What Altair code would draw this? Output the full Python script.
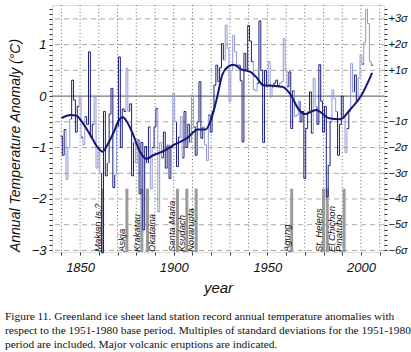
import altair as alt
import pandas as pd
import numpy as np

# ---------------- data ----------------
years = list(range(1840, 2007))
anomaly = [
    -0.78, -1.15, -0.65, -1.62, -1.00, -0.45, 0.31, -0.08, -0.70, -0.20,
    0.00, -0.80, -0.95, -0.40, -0.55, 0.86, -0.80, -0.55, -0.02, -1.40,
    -1.00, -1.50, -3.05, -0.30, -1.55, -1.30, -0.35, 0.15, -1.78, -1.53,
    -0.60, 0.76, -1.00, -0.25, -0.30, 0.54, -0.30, -0.15, -1.55, -0.90,
    -1.30, -0.85, -1.90, -0.90, -2.60, -0.98, -1.30, -0.60, -1.80, -1.00,
    -0.60, -0.24, -2.25, -0.90, -1.20, -0.70, -1.40, -0.95, -1.60, -1.00,
    0.05, -0.50, -1.37, -0.80, -0.40, -1.20, -0.30, -1.00, -0.55, -0.90,
    0.02, -0.60, -1.15, -0.50, 0.28, -0.82, -0.60, -0.95, -1.25, -0.37,
    -0.70, -0.30, 0.21, 0.60, 0.28, 0.55, 1.02, 0.70, 1.38, 0.93,
    -0.10, 0.50, 1.18, 0.86, 0.60, 0.60, 0.30, -0.89, 0.83, 0.50,
    1.37, 1.07, 0.67, 0.12, 0.10, 0.25, 1.46, 0.50, -0.90, 0.50,
    0.18, 0.67, -0.02, 0.18, 0.25, 0.31, 0.20, 0.25, 0.28, 1.12,
    0.50, 0.18, 0.47, -0.63, 0.10, -0.40, -0.37, -0.10, -0.50, -0.30,
    -1.60, -0.63, -0.30, 0.08, -0.72, 0.34, -0.20, -0.55, 0.61, -0.10,
    -0.70, -0.20, -1.96, -1.35, -0.50, 0.12, -0.05, -0.30, -1.15, -0.55,
    0.00, -0.40, -1.10, -0.63, -0.30, 0.63, 0.08, 0.41, -0.10, 0.35,
    0.80, 0.62, 1.05, 1.69, 1.41, 0.67, 0.60,
]
source = list(
    "AAABBBAAAA"
    "BABAAAAABB"
    "ABAAABAAAB"
    "BAAAABBAAB"
    "BAAAAABABA"
    "AABBAAABAA"
    "BBAABAAAAB"
    "BAAAAABBBA"
    "AAAAAAABBB"
    "BBBBAAAAAA"
    "AAABBAAAAA"
    "ABBAAAABBB"
    "BAAAABBBAA"
    "AABAABBAAA"
    "AAAAABBBAA"
    "AABABBBABB"
    "BABBBBA"
)

curve_years = [1840, 1845, 1848, 1851, 1856, 1859, 1862, 1865, 1868, 1871, 1873,
               1875, 1878, 1882, 1885.5, 1889, 1894, 1900, 1907, 1913, 1917,
               1920, 1923, 1926, 1929, 1932, 1936, 1941, 1944, 1948, 1953,
               1958, 1962, 1967, 1970, 1976, 1983, 1989, 1994, 2000, 2006]
curve_values = [-0.43, -0.37, -0.38, -0.50, -0.79, -0.98, -1.08, -0.92, -0.70, -0.45, -0.41,
                -0.50, -0.72, -1.08, -1.22, -1.15, -1.08, -0.95, -0.82, -0.65, -0.65,
                -0.45, -0.05, 0.42, 0.57, 0.61, 0.52, 0.47, 0.37, 0.21, 0.20,
                0.18, 0.05, -0.27, -0.35, -0.27, -0.43, -0.45, -0.27, 0.00, 0.45]

volcano_names = ["Makian Is.?", "Askja", "Krakatau", "Okataina", "Santa Maria",
                 "Ksudach", "Novarupta", "Agung", "St. Helens", "El Chichon", "Pinatubo"]
volcano_years = [1862, 1875, 1883, 1886, 1902, 1907, 1912, 1963, 1980, 1982, 1991]
volcano_top = -1.8

decades = list(range(1840, 2011, 10))
sigma_levels = [1.5, 1.0, 0.5, -0.5, -1.0, -1.5, -2.0, -2.5, -3.0]
zero_level = [0.0]

X_DOMAIN = [1835, 2012.3]
Y_DOMAIN = [-3.03, 1.77]
NAVY = "#1b1f7c"
LIGHT = "#9397d4"
LABEL_FONT = "Liberation Sans"

# ---------------- frames ----------------
n = len(years)
arr = np.array(anomaly)
steps = pd.DataFrame({
    "x0": [y - 0.5 for y in years],
    "x1": [y + 0.5 for y in years],
    "v": anomaly,
    "src": source,
})
curve_at = np.interp(years, curve_years, curve_values)
dev = np.abs(arr - curve_at)
vert_rows = []
for i in range(1, n):
    owner = i if dev[i] >= dev[i - 1] else i - 1
    vert_rows.append({"x0": years[i] - 0.5, "v0": anomaly[i - 1], "v1": anomaly[i],
                      "src": source[owner]})
verts = pd.DataFrame(vert_rows)

curve_df = pd.DataFrame({"x0": curve_years, "v": curve_values})
volc = pd.DataFrame({"name": volcano_names, "x0": volcano_years,
                     "top": [volcano_top] * len(volcano_years),
                     "base": [Y_DOMAIN[0]] * len(volcano_years)})

xs = alt.Scale(domain=X_DOMAIN, nice=False, zero=False)
ys = alt.Scale(domain=Y_DOMAIN, nice=False, zero=False)
color_scale = alt.Scale(domain=["A", "B"], range=[NAVY, LIGHT])

left_ticks = [round(-3.0 + 0.1 * i, 1) for i in range(48)]
right_ticks = left_ticks

x_axis = alt.Axis(
    values=decades, title="year", grid=False, domain=False,
    tickSize=3, tickColor="#333", labelPadding=6,
    labelExpr="datum.value % 50 == 0 ? '' + datum.value : ''",
    labelFont=LABEL_FONT, labelFontStyle="italic", labelFontSize=13, labelColor="#111",
    titleFont=LABEL_FONT, titleFontStyle="italic", titleFontSize=15,
    titleFontWeight="normal", titleColor="#111", titlePadding=6,
)


def X(field):
    return alt.X(field, type="quantitative", scale=xs, axis=x_axis)


# grid: decades (dotted)
grid_x = alt.Chart(pd.DataFrame({"x0": decades})).mark_rule(
    color="#444444", strokeDash=[1, 2.5], strokeWidth=0.8
).encode(x=X("x0"))

# grid: sigma levels (dashed) -> carries right axis
grid_y = alt.Chart(pd.DataFrame({"v": sigma_levels})).mark_rule(
    color="#a8a8a8", strokeDash=[5, 4], strokeWidth=1
).encode(
    y=alt.Y("v:Q", scale=ys, axis=alt.Axis(
        orient="right", values=right_ticks, title=None, grid=False, domain=False,
        tickSize=3, tickColor="#333", labelPadding=1,
        labelExpr="abs(datum.value*2 - round(datum.value*2)) < 0.01 && round(datum.value*2) != 0 ? (datum.value > 0 ? '+' : '\u2212') + abs(round(datum.value*2)) + '\u03c3' : ''",
        labelFont=LABEL_FONT, labelFontStyle="italic", labelFontSize=11, labelColor="#111",
    ))
)

zero_rule = alt.Chart(pd.DataFrame({"v": zero_level})).mark_rule(
    color="#777777", strokeWidth=1.2
).encode(y=alt.Y("v:Q", scale=ys, axis=None))

volc_bars = alt.Chart(volc).mark_rule(color="#9b9b9b", strokeWidth=3).encode(
    x=X("x0"),
    y=alt.Y("base:Q", scale=ys, axis=None),
    y2="top:Q",
)

h_steps = alt.Chart(steps).mark_rule(strokeWidth=1.0).encode(
    x=X("x0"),
    x2="x1:Q",
    y=alt.Y("v:Q", scale=ys, axis=alt.Axis(
        orient="left", values=left_ticks, title="Annual Temperature Anomaly (\u00b0C)",
        grid=False, domain=False, tickSize=3, tickColor="#333", labelPadding=3,
        labelExpr="abs(datum.value - round(datum.value)) < 0.01 ? (round(datum.value) < 0 ? '\u2212' + abs(round(datum.value)) : '' + round(datum.value)) : ''",
        labelFont=LABEL_FONT, labelFontStyle="italic", labelFontSize=13, labelColor="#111",
        titleFont=LABEL_FONT, titleFontStyle="italic", titleFontSize=14,
        titleFontWeight="normal", titleColor="#111", titlePadding=9,
        titleY=140, titleAlign="center",
    )),
    color=alt.Color("src:N", scale=color_scale, legend=None),
    order=alt.Order("src:N", sort="descending"),
)

v_steps = alt.Chart(verts).mark_rule(strokeWidth=1.0).encode(
    x=X("x0"),
    y=alt.Y("v0:Q", scale=ys, axis=None),
    y2="v1:Q",
    color=alt.Color("src:N", scale=color_scale, legend=None),
    order=alt.Order("src:N", sort="descending"),
)

curve = alt.Chart(curve_df).mark_line(color="#101676", strokeWidth=2, interpolate="monotone").encode(
    x=X("x0"),
    y=alt.Y("v:Q", scale=ys, axis=None),
)

right_side = ["Okataina", "El Chichon"]
labels_left = alt.Chart(volc).transform_filter(
    alt.FieldOneOfPredicate(field="name", oneOf=[v for v in volcano_names if v not in right_side])
).mark_text(angle=270, align="left", baseline="bottom", font=LABEL_FONT,
            fontStyle="italic", fontSize=9.5, color="#111").encode(
    x=X("x0"),
    y=alt.Y("base:Q", scale=ys, axis=None),
    text="name:N",
)
labels_right = alt.Chart(volc).transform_filter(
    alt.FieldOneOfPredicate(field="name", oneOf=right_side)
).mark_text(angle=270, align="left", baseline="top", font=LABEL_FONT,
            fontStyle="italic", fontSize=9.5, color="#111").encode(
    x=X("x0"),
    y=alt.Y("base:Q", scale=ys, axis=None),
    text="name:N",
)

caption = [
    "Figure 11. Greenland ice sheet land station record annual temperature anomalies with",
    "respect to the 1951-1980 base period. Multiples of standard deviations for the 1951-1980",
    "period are included. Major volcanic eruptions are indicated.",
]

chart = alt.layer(
    grid_x, grid_y, zero_rule, volc_bars, v_steps, h_steps, curve, labels_left, labels_right
).resolve_axis(y="independent").properties(
    width=332, height=247,
    autosize=alt.AutoSizeParams(type="none"),
    padding={"left": 52, "top": 5, "right": 27, "bottom": 100},
    title=alt.TitleParams(
        text=caption, orient="bottom", anchor="start", frame="group",
        font="Liberation Serif", fontSize=11.4, fontWeight="normal", color="#111",
        lineHeight=14, dx=-47, offset=16,
    ),
).configure_view(stroke="#222", strokeWidth=1).configure(background="white")

chart.save("out.html", embed_options={"renderer": "svg", "actions": False})
